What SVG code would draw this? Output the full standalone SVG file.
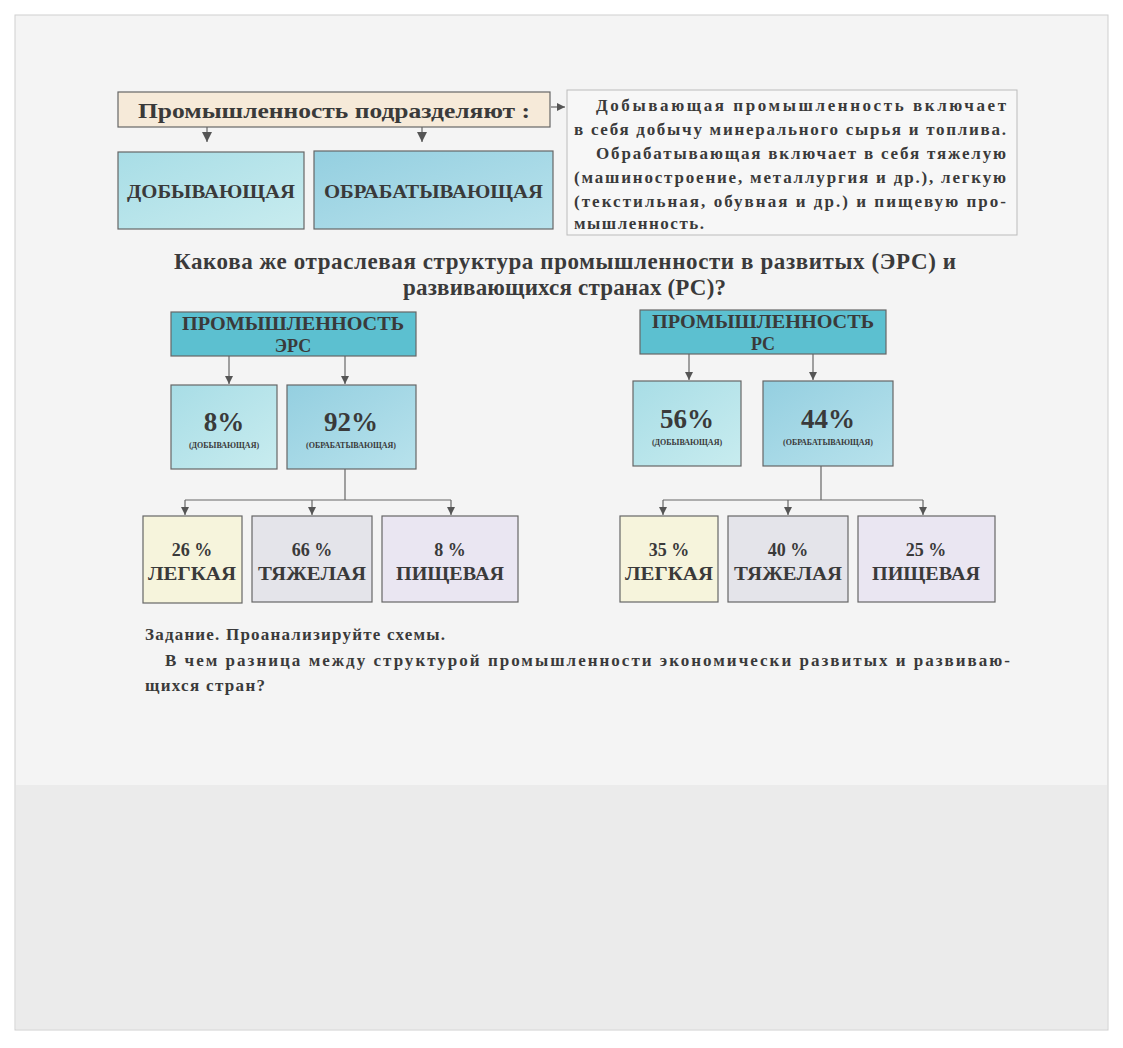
<svg xmlns="http://www.w3.org/2000/svg" width="1123" height="1048" viewBox="0 0 1123 1048">
<defs>
<marker id="ah" markerWidth="8" markerHeight="8" refX="8" refY="4" orient="auto" markerUnits="userSpaceOnUse" viewBox="0 0 8 8"><path d="M0,0 L8,4 L0,8 Z" fill="#555"/></marker>
<marker id="ah2" markerWidth="10" markerHeight="10" refX="10" refY="5" orient="auto" markerUnits="userSpaceOnUse" viewBox="0 0 10 10"><path d="M0,0 L10,5 L0,10 Z" fill="#555"/></marker>
<linearGradient id="cy" x1="0" y1="0" x2="1" y2="1"><stop offset="0" stop-color="#a8dde6"/><stop offset="1" stop-color="#c8ecef"/></linearGradient>
<linearGradient id="cy2" x1="0" y1="0" x2="1" y2="1"><stop offset="0" stop-color="#94cfe0"/><stop offset="1" stop-color="#b8e2ec"/></linearGradient>
</defs>
<style>
.t{font-family:"Liberation Serif",serif;font-weight:bold;fill:#3a3a3a}
.b{stroke:#666;stroke-width:1.2}
.c{fill:none;stroke:#666;stroke-width:1.2}
</style>
<rect width="1123" height="1048" fill="#fff"/>
<rect x="15" y="15" width="1093" height="1015" fill="#f4f4f4" stroke="#cfcfcf"/>
<rect x="16" y="785" width="1091" height="244" fill="#ebebeb"/>
<g id="top"><rect class="b" x="118" y="92" width="432" height="35" fill="#f6ead9"/><text class="t" x="138" y="118" font-size="21" textLength="392" lengthAdjust="spacingAndGlyphs">Промышленность подразделяют :</text></g>
<g id="desc"><rect x="567" y="90" width="450" height="145" fill="#f7f7f7" stroke="#bbb"/>
<text class="t" font-size="17" lengthAdjust="spacingAndGlyphs"><tspan x="596" y="111" textLength="410">Добывающая  промышленность  включает</tspan><tspan x="574" y="135" textLength="432">в себя добычу минерального сырья и топлива.</tspan><tspan x="596" y="159" textLength="410">Обрабатывающая включает в себя тяжелую</tspan><tspan x="574" y="183" textLength="432">(машиностроение, металлургия и др.),  легкую</tspan><tspan x="574" y="207" textLength="432">(текстильная,  обувная  и  др.) и пищевую про-</tspan><tspan x="574" y="229" textLength="130">мышленность.</tspan></text></g>
<g id="dob"><rect class="b" x="118" y="152" width="186" height="77" fill="url(#cy)"/><text class="t" x="127" y="198" font-size="18" textLength="168" lengthAdjust="spacingAndGlyphs">ДОБЫВАЮЩАЯ</text></g>
<g id="obr"><rect class="b" x="314" y="151" width="239" height="78" fill="url(#cy2)"/><text class="t" x="324" y="198" font-size="18" textLength="219" lengthAdjust="spacingAndGlyphs">ОБРАБАТЫВАЮЩАЯ</text></g>
<g id="heading"><text class="t" font-size="23" lengthAdjust="spacingAndGlyphs"><tspan x="174" y="269" textLength="782">Какова же отраслевая структура промышленности в развитых  (ЭРС) и</tspan><tspan x="403" y="295" textLength="323">развивающихся странах (РС)?</tspan></text></g>
<g id="ers"><rect class="b" x="171" y="312" width="245" height="44" fill="#5cc0d0"/><text class="t" font-size="18" text-anchor="middle"><tspan x="293" y="330" textLength="222" lengthAdjust="spacingAndGlyphs">ПРОМЫШЛЕННОСТЬ</tspan><tspan x="293" y="352">ЭРС</tspan></text></g>
<g id="ers8"><rect class="b" x="171" y="385" width="106" height="84" fill="url(#cy)"/><text class="t" x="224" y="431" font-size="27" text-anchor="middle">8%</text><text class="t" x="224" y="448" font-size="8" text-anchor="middle">(ДОБЫВАЮЩАЯ)</text></g>
<g id="ers92"><rect class="b" x="287" y="385" width="129" height="84" fill="url(#cy2)"/><text class="t" x="351" y="431" font-size="27" text-anchor="middle">92%</text><text class="t" x="351" y="448" font-size="8" text-anchor="middle">(ОБРАБАТЫВАЮЩАЯ)</text></g>
<g id="ersL"><rect class="b" x="143" y="516" width="99" height="87" fill="#f6f4dc"/><text class="t" font-size="18" text-anchor="middle"><tspan x="192" y="556">26 %</tspan><tspan x="192" y="580" textLength="88" lengthAdjust="spacingAndGlyphs">ЛЕГКАЯ</tspan></text></g>
<g id="ersT"><rect class="b" x="252" y="516" width="120" height="86" fill="#e4e4ea"/><text class="t" font-size="18" text-anchor="middle"><tspan x="312" y="556">66 %</tspan><tspan x="312" y="580" textLength="108" lengthAdjust="spacingAndGlyphs">ТЯЖЕЛАЯ</tspan></text></g>
<g id="ersP"><rect class="b" x="382" y="516" width="136" height="86" fill="#eae6f2"/><text class="t" font-size="18" text-anchor="middle"><tspan x="450" y="556">8 %</tspan><tspan x="450" y="580" textLength="108" lengthAdjust="spacingAndGlyphs">ПИЩЕВАЯ</tspan></text></g>
<g id="rs"><rect class="b" x="640" y="310" width="246" height="44" fill="#5cc0d0"/><text class="t" font-size="18" text-anchor="middle"><tspan x="763" y="328" textLength="222" lengthAdjust="spacingAndGlyphs">ПРОМЫШЛЕННОСТЬ</tspan><tspan x="763" y="350">РС</tspan></text></g>
<g id="rs56"><rect class="b" x="633" y="381" width="108" height="85" fill="url(#cy)"/><text class="t" x="687" y="428" font-size="27" text-anchor="middle">56%</text><text class="t" x="687" y="445" font-size="8" text-anchor="middle">(ДОБЫВАЮЩАЯ)</text></g>
<g id="rs44"><rect class="b" x="763" y="381" width="130" height="85" fill="url(#cy2)"/><text class="t" x="828" y="428" font-size="27" text-anchor="middle">44%</text><text class="t" x="828" y="445" font-size="8" text-anchor="middle">(ОБРАБАТЫВАЮЩАЯ)</text></g>
<g id="rsL"><rect class="b" x="620" y="516" width="98" height="86" fill="#f6f4dc"/><text class="t" font-size="18" text-anchor="middle"><tspan x="669" y="556">35 %</tspan><tspan x="669" y="580" textLength="88" lengthAdjust="spacingAndGlyphs">ЛЕГКАЯ</tspan></text></g>
<g id="rsT"><rect class="b" x="728" y="516" width="120" height="86" fill="#e4e4ea"/><text class="t" font-size="18" text-anchor="middle"><tspan x="788" y="556">40 %</tspan><tspan x="788" y="580" textLength="108" lengthAdjust="spacingAndGlyphs">ТЯЖЕЛАЯ</tspan></text></g>
<g id="rsP"><rect class="b" x="858" y="516" width="137" height="86" fill="#eae6f2"/><text class="t" font-size="18" text-anchor="middle"><tspan x="926" y="556">25 %</tspan><tspan x="926" y="580" textLength="108" lengthAdjust="spacingAndGlyphs">ПИЩЕВАЯ</tspan></text></g>
<g id="connectors">
<path class="c" d="M207,127 V142" stroke-width="2.5" marker-end="url(#ah2)"/>
<path class="c" d="M422,127 V142" stroke-width="2.5" marker-end="url(#ah2)"/>
<path class="c" d="M551,107 H565" marker-end="url(#ah)"/>
<path class="c" d="M229,356 V384" marker-end="url(#ah)"/>
<path class="c" d="M345,356 V384" marker-end="url(#ah)"/>
<path class="c" d="M345,469 V500 M185,500 H451"/>
<path class="c" d="M185,500 V515" marker-end="url(#ah)"/>
<path class="c" d="M312,500 V515" marker-end="url(#ah)"/>
<path class="c" d="M451,500 V515" marker-end="url(#ah)"/>
<path class="c" d="M689,354 V380" marker-end="url(#ah)"/>
<path class="c" d="M813,354 V380" marker-end="url(#ah)"/>
<path class="c" d="M821,466 V500 M663,500 H923"/>
<path class="c" d="M663,500 V515" marker-end="url(#ah)"/>
<path class="c" d="M788,500 V515" marker-end="url(#ah)"/>
<path class="c" d="M923,500 V515" marker-end="url(#ah)"/>
</g>
<g id="task"><text class="t" font-size="17" lengthAdjust="spacingAndGlyphs"><tspan x="145" y="640" textLength="300">Задание. Проанализируйте схемы.</tspan><tspan x="165" y="666" textLength="845">В чем разница между структурой промышленности  экономически развитых  и  развиваю-</tspan><tspan x="145" y="691" textLength="120">щихся стран?</tspan></text></g>
</svg>
